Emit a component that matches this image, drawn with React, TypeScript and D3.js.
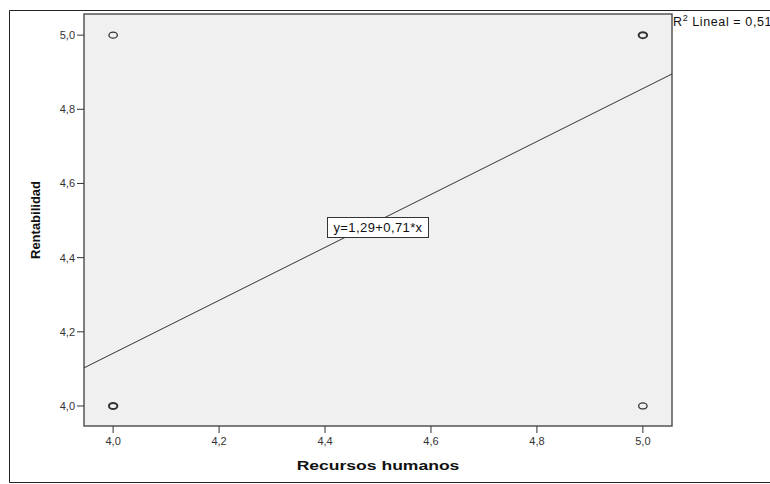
import React from 'react';
import * as d3 from 'd3';

// observed points (Recursos humanos, Rentabilidad); bold = overlapping cases
const pointsX = [4, 4, 5, 5];
const pointsY = [5, 4, 5, 4];
const pointsBold = [false, true, true, false];

const xTicks = [4.0, 4.2, 4.4, 4.6, 4.8, 5.0];
const yTicks = [4.0, 4.2, 4.4, 4.6, 4.8, 5.0];

const fitIntercept = 1.286;
const fitSlope = 0.714;
const fitLabel = 'y=1,29+0,71*x';
const r2Label = ' Lineal = 0,516';

const W = 770;
const H = 484;
const plot = {left: 84, top: 14, right: 672, bottom: 426};

const fmt = (v: number) => v.toFixed(1).replace('.', ',');

export default function App() {
  const x = d3.scaleLinear().domain([3.945, 5.055]).range([plot.left, plot.right]);
  const y = d3.scaleLinear().domain([3.946, 5.057]).range([plot.bottom, plot.top]);

  const [x0, x1] = x.domain();
  const line = d3.line<number>()
      .x((d) => x(d))
      .y((d) => y(fitIntercept + fitSlope * d));

  const font = 'Arial, "Liberation Sans", sans-serif';

  return (
    <svg width={W} height={H} style={{position: 'absolute', left: 0, top: 0}}
      fontFamily={font}>
      <rect x={0} y={0} width={W} height={H} fill="white" />
      {/* outer frame */}
      <path d={`M${W},10.5H9.5V482.5H${W}`} fill="none" stroke="#222" strokeWidth={1} />

      <rect x={plot.left} y={plot.top} width={plot.right - plot.left}
        height={plot.bottom - plot.top} fill="#f0f0f0" stroke="#555" strokeWidth={1.5} />

      {yTicks.map((t) => (
        <g key={'y' + t}>
          <line x1={plot.left - 7} x2={plot.left} y1={y(t)} y2={y(t)} stroke="#333" />
          <text x={plot.left - 9} y={y(t) + 4} textAnchor="end" fontSize={11} fill="#333">{fmt(t)}</text>
        </g>
      ))}
      {xTicks.map((t) => (
        <g key={'x' + t}>
          <line x1={x(t)} x2={x(t)} y1={plot.bottom} y2={plot.bottom + 7} stroke="#333" />
          <text x={x(t)} y={plot.bottom + 19} textAnchor="middle" fontSize={11} fill="#333">{fmt(t)}</text>
        </g>
      ))}

      <path d={line([x0, x1]) || ''} fill="none" stroke="#333" strokeWidth={1} />

      {pointsX.map((px, i) => (
        <ellipse key={i} cx={x(px)} cy={y(pointsY[i])} rx={4.2} ry={3}
          fill="none" stroke="#333" strokeWidth={pointsBold[i] ? 2 : 1.3} />
      ))}

      <rect x={327.5} y={217.5} width={101} height={20} fill="white" stroke="#333" strokeWidth={1} />
      <text x={378} y={232} textAnchor="middle" fontSize={13} letterSpacing={0.4} fill="#111">{fitLabel}</text>

      <text x={673} y={26} fontSize={12.5} letterSpacing={0.6} fill="#111">
        R<tspan dy={-5} fontSize={9}>2</tspan><tspan dy={5}>{r2Label}</tspan>
      </text>

      <text transform="translate(40,220) rotate(-90)" textAnchor="middle"
        fontSize={13} fontWeight="bold" fill="#111">Rentabilidad</text>
      <text transform="translate(378,470) scale(1.3,1)" textAnchor="middle" fontSize={13.5}
        fontWeight="bold" fill="#111">Recursos humanos</text>
    </svg>
  );
}
